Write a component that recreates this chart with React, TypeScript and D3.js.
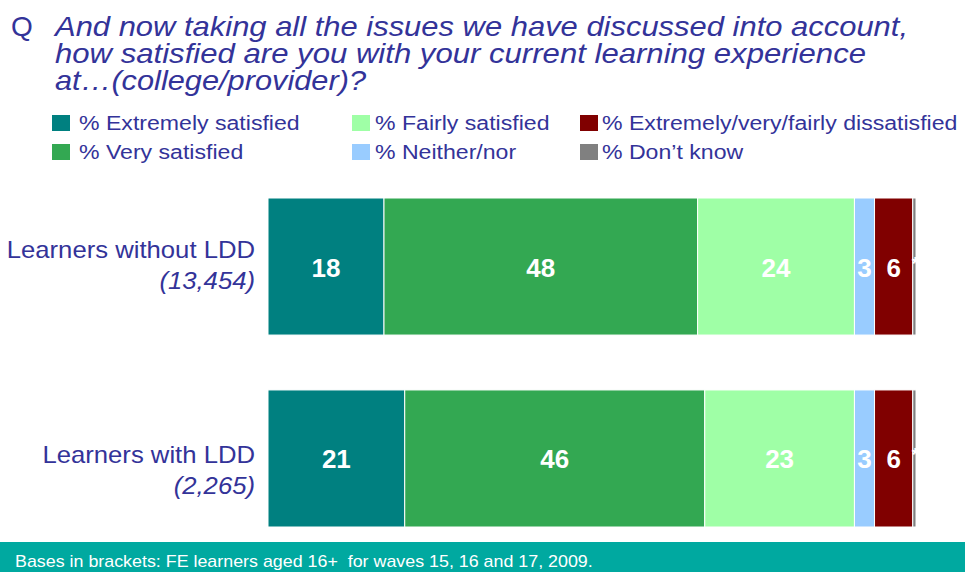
import React, { useEffect, useRef } from "react";
import * as d3 from "d3";

const titleLines = [
  "And now taking all the issues we have discussed into account,",
  "how satisfied are you with your current learning experience",
  "at\u2026(college/provider)?",
];
const categories = ["Learners without LDD", "Learners with LDD"];
const bases = ["(13,454)", "(2,265)"];
const seriesNames = [
  "% Extremely satisfied",
  "% Very satisfied",
  "% Fairly satisfied",
  "% Neither/nor",
  "% Extremely/very/fairly dissatisfied",
  "% Don\u2019t know",
];
const seriesColors = ["#008080", "#33A852", "#9FFFA6", "#99CCFF", "#800000", "#808080"];
const withoutLDD = [17.9, 48.4, 24.2, 3.1, 5.9, 0.5];
const withLDD = [21.1, 46.3, 23.1, 3.1, 5.9, 0.5];
const labelsWithout = ["18", "48", "24", "3", "6", "*"];
const labelsWith = ["21", "46", "23", "3", "6", "*"];
const footnote = "Bases in brackets: FE learners aged 16+  for waves 15, 16 and 17, 2009.";

const W = 965;
const H = 572;
const NAVY = "#333399";
const SANS = "'Liberation Sans', Arial, sans-serif";

export default function App() {
  const ref = useRef<SVGSVGElement | null>(null);

  useEffect(() => {
    if (!ref.current) return;
    document.body.style.margin = "0";
    const svg = d3.select(ref.current);
    svg.selectAll("*").remove();

    // text drawn slightly wider, like the stretched original slide
    const label = (x: number, y: number, sx: number) =>
      svg
        .append("text")
        .attr("transform", `translate(${x},${y}) scale(${sx},1)`)
        .style("font-family", SANS)
        .style("white-space", "pre");

    // Title
    label(11, 36, 1).attr("fill", NAVY).style("font-size", "28px").text("Q");
    const titleWidths = [853, 811, 311];
    titleLines.forEach((line, i) => {
      svg
        .append("text")
        .attr("x", 55)
        .attr("y", 36 + i * 27)
        .attr("fill", NAVY)
        .attr("textLength", titleWidths[i])
        .attr("lengthAdjust", "spacingAndGlyphs")
        .style("font-family", SANS)
        .style("font-style", "italic")
        .style("font-size", "28px")
        .text(line);
    });

    // Legend
    const legendPos = [
      [52, 115, 79],
      [52, 144, 79],
      [352, 115, 375],
      [352, 144, 375],
      [580, 115, 602],
      [580, 144, 602],
    ];
    seriesNames.forEach((name, i) => {
      const [sx, sy, tx] = legendPos[i];
      svg
        .append("rect")
        .attr("x", sx)
        .attr("y", sy)
        .attr("width", 18)
        .attr("height", 16)
        .attr("fill", seriesColors[i]);
      label(tx, sy + 15, 1.1).attr("fill", NAVY).style("font-size", "21px").text(name);
    });

    // Bars
    const x = d3.scaleLinear().domain([0, 100]).range([268, 916]);
    const y = d3.scaleBand().domain(categories).range([198, 527]).paddingInner(0.286);
    const rows = [
      { cat: categories[0], vals: withoutLDD, labels: labelsWithout, base: bases[0], dy: 60 },
      { cat: categories[1], vals: withLDD, labels: labelsWith, base: bases[1], dy: 73 },
    ];

    rows.forEach((row) => {
      const stacked = d3.cumsum(row.vals);
      const y0 = y(row.cat) as number;
      const bh = y.bandwidth();
      const g = svg.append("g");
      g.selectAll("rect")
        .data(row.vals)
        .enter()
        .append("rect")
        .attr("x", (d, i) => x(stacked[i] - d))
        .attr("y", y0)
        .attr("width", (d) => x(d) - x(0))
        .attr("height", bh)
        .attr("fill", (d, i) => seriesColors[i])
        .attr("stroke", "#ffffff")
        .attr("stroke-width", 1);
      g.selectAll("text")
        .data(row.vals)
        .enter()
        .append("text")
        .attr("x", (d, i) => x(stacked[i] - d / 2) + (i === 5 ? 1 : 0))
        .attr("y", (d, i) => y0 + bh / 2 + (i === 5 ? 3 : 10))
        .attr("text-anchor", "middle")
        .attr("fill", "#ffffff")
        .style("font-family", SANS)
        .style("font-weight", "bold")
        .style("font-size", (d, i) => (i === 5 ? "18px" : "26px"))
        .text((d, i) => row.labels[i]);

      // Category labels
      label(255, y0 + row.dy, 1.07)
        .attr("text-anchor", "end")
        .attr("fill", NAVY)
        .style("font-size", "24px")
        .text(row.cat);
      label(255, y0 + row.dy + 31, 1.07)
        .attr("text-anchor", "end")
        .attr("fill", NAVY)
        .style("font-style", "italic")
        .style("font-size", "24px")
        .text(row.base);
    });

    // Footer band
    svg.append("rect").attr("x", 0).attr("y", 542).attr("width", W).attr("height", H - 542).attr("fill", "#00A9A0");
    label(15, 567, 1.05).attr("fill", "#ffffff").style("font-size", "17px").text(footnote);
  }, []);

  return (
    <svg
      ref={ref}
      width={W}
      height={H}
      style={{ display: "block", position: "absolute", left: 0, top: 0, background: "#ffffff" }}
    />
  );
}
